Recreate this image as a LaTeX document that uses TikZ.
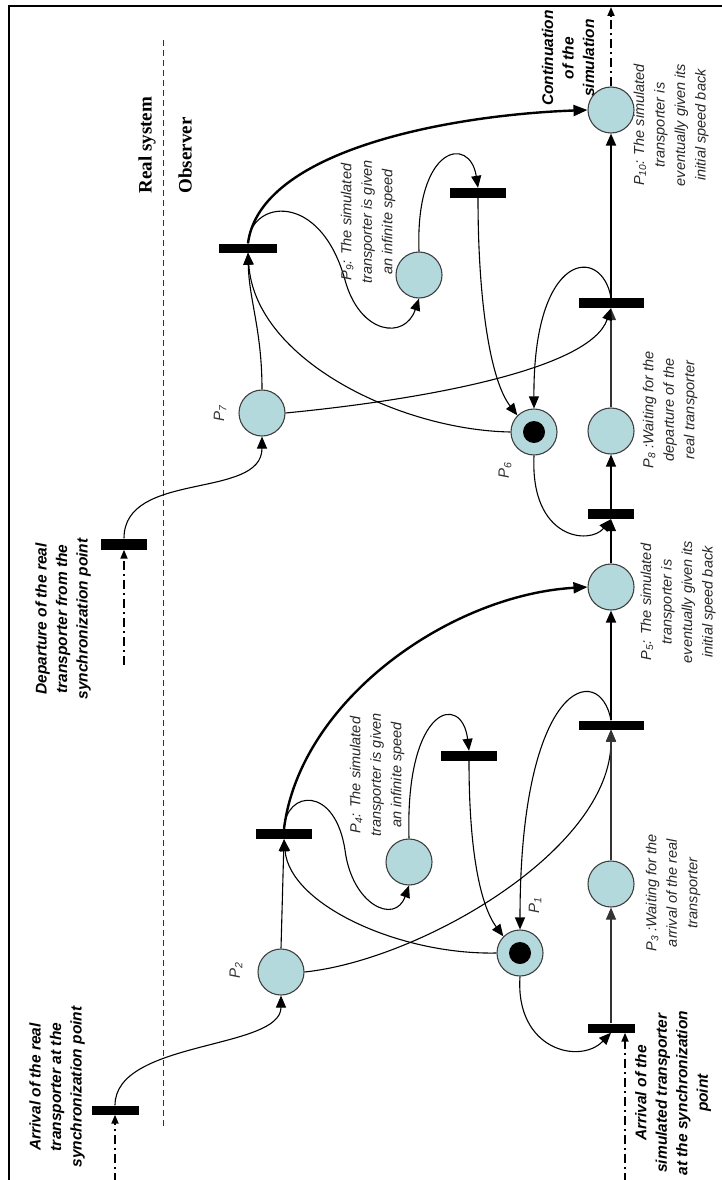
\documentclass[tikz,border=0pt]{standalone}
\usepackage{fontspec}
\setmainfont{Liberation Sans}
\newfontfamily\serifb{Liberation Serif}
\usetikzlibrary{arrows.meta,calc}
\definecolor{placefill}{HTML}{B4D9DC}
\begin{document}
\begin{tikzpicture}[x=1pt,y=-1pt,
  place/.style={circle,draw=black!75,fill=placefill,line width=1.1pt,minimum size=46pt,inner sep=0pt},
  token/.style={circle,fill=black,minimum size=22pt,inner sep=0pt},
  trans/.style={rectangle,fill=black,inner sep=0pt,minimum height=10pt},
  arc/.style={line width=1.1pt,-{Triangle[length=12pt,width=10pt]}},
  heavy/.style={line width=2.4pt,-{Triangle[length=14pt,width=11pt]}},
  dashdot/.style={line width=1.8pt,dash pattern=on 9pt off 4pt on 2pt off 4pt,-{Triangle[length=9pt,width=7pt]}},
  lbl/.style={rotate=90,align=center,font=\fontsize{14.5}{20.5}\selectfont\itshape,text=black!85},
  blbl/.style={rotate=90,align=center,font=\fontsize{15.5}{20.5}\selectfont\bfseries\itshape},
  plbl/.style={rotate=90,font=\fontsize{15}{18}\selectfont\itshape,text=black!80},
  sysl/.style={rotate=90,anchor=west,font=\fontsize{19}{22}\serifb\bfseries}
]
\useasboundingbox (0,0) rectangle (721,1180);
\draw[line width=2pt] (9,1190) -- (9,6) -- (730,6);
\draw[line width=1pt,dash pattern=on 6pt off 4pt,black!80] (163,40) -- (163,1127);
\node[sysl] (rs) at (147,197) {Real system};
\node[sysl] (ob) at (185,197) {Observer};

% places
\node[place] (P1) at (520,953) {};
\node[token] (P1t) at (P1) {};
\node[place] (P2) at (281,972) {};
\node[place] (P3) at (611,884) {};
\node[place] (P4) at (409,862) {};
\node[place] (P5) at (611,587) {};
\node[place] (P6) at (534,432) {};
\node[token] (P6t) at (P6) {};
\node[place] (P7) at (262,413) {};
\node[place] (P8) at (611,431) {};
\node[place] (P9) at (419,275) {};
\node[place] (P10) at (611,110) {};

% transitions
\node[trans,minimum width=47pt,minimum height=9pt] (Tar) at (115,1110) {};
\node[trans,minimum width=56pt] (T1) at (284,834) {};
\node[trans,minimum width=56pt] (T2) at (469,756) {};
\node[trans,minimum width=65pt,minimum height=9pt] (T3) at (611,725) {};
\node[trans,minimum width=47pt,minimum height=9pt] (T0) at (611,1028) {};
\node[trans,minimum width=46pt] (T4) at (611,514) {};
\node[trans,minimum width=65pt] (T5) at (611,303) {};
\node[trans,minimum width=46pt,minimum height=11pt] (T6) at (124,544) {};
\node[trans,minimum width=58pt,minimum height=9pt] (T7) at (248,248) {};
\node[trans,minimum width=56pt] (T8) at (478,193) {};

\coordinate (s1) at (115,1182);
\coordinate (s2) at (625,1182);
\coordinate (s3) at (124,665);
\coordinate (e4) at (611,7);

% lower half
\draw[dashdot] (s1) -- (Tar.south);
\draw[arc] (Tar.north) .. controls (115,1040) and (281,1050) .. (P2.south);
\draw[arc] (P2.north) -- (T1.south);
\draw[arc] (P1.west) .. controls (400,955) and (290,905) .. (T1.south);
\draw[arc] (T1.north) .. controls (286,790) and (335,785) .. (345,850) .. controls (352,905) and (395,925) .. (P4.south);
\draw[heavy] (T1.north) .. controls (300,700) and (450,595) .. (P5.west);
\draw[arc] (P4.north) .. controls (405,705) and (462,692) .. (T2.north);
\draw[arc] (T2.south) .. controls (469,850) and (480,905) .. (P1.135);
\draw[arc] (T3.north) .. controls (600,660) and (520,680) .. (P1.north);
\draw[arc] (P2.east) .. controls (420,960) and (611,850) .. (T3.south);
\draw[dashdot] (s2) -- (T0.south -| s2);
\draw[arc] (P1.south) .. controls (515,1050) and (580,1065) .. (T0.south);
\draw[arc,black!80] (T0.north) -- (P3.south);
\draw[arc,black!80] (P3.north) -- (T3.south);
\draw[arc,line width=1.8pt] (T3.north) -- (P5.south);
\draw[arc] (P5.north) -- (T4.south);
\draw[arc] (P6.south) .. controls (530,540) and (590,545) .. (T4.south);
\draw[arc] (T4.north) -- (P8.south);
\draw[arc,black!80] (P8.north) -- (T5.south);
\draw[arc,line width=1.8pt] (T5.north) -- (P10.south);
\draw[dashdot] (P10.north) -- (e4);

% upper half
\draw[dashdot] (s3) -- (T6.south);
\draw[arc] (T6.north) .. controls (124,470) and (262,500) .. (P7.south);
\draw[arc] (P7.north) .. controls (262,330) and (249,300) .. (T7.south);
\draw[arc] (P6.west) .. controls (400,430) and (255,360) .. (T7.south);
\draw[arc] (T7.north) .. controls (250,200) and (320,190) .. (345,280) .. controls (360,335) and (405,340) .. (P9.south);
\draw[heavy] (T7.north) .. controls (260,150) and (450,115) .. (P10.west);
\draw[arc] (P9.north) .. controls (415,145) and (470,135) .. (T8.north);
\draw[arc] (T8.south) .. controls (478,300) and (490,380) .. (P6.135);
\draw[arc] (T5.north) .. controls (602,245) and (533,250) .. (P6.north);
\draw[arc] (P7.east) .. controls (420,400) and (590,370) .. (T5.south);

% labels
\node[blbl] (Lar) at (57,1087) {Arrival of the real\\transporter at the\\synchronization point};
\node[blbl] (Ldep) at (63,619) {Departure of the real\\transporter from the\\synchronization point};
\node[blbl] (Lcont) at (568,58) {Continuation\\of the\\simulation};
\node[blbl] (Las) at (673,1093) {Arrival of the\\simulated transporter\\at the synchronization\\point};

\node[lbl] (L4) at (377,775) {P\textsubscript{4}: The simulated\\transporter is given\\an infinite speed};
\node[lbl] (L9) at (368,222) {P\textsubscript{9}: The simulated\\transporter is given\\an infinite speed};
\node[lbl] (L5) at (678,602) {P\textsubscript{5}: The simulated\\transporter is\\eventually given its\\initial speed back};
\node[lbl] (L10) at (671,125) {P\textsubscript{10}: The simulated\\transporter is\\eventually given its\\initial speed back};
\node[lbl] (L3) at (673,893) {P\textsubscript{3} :Waiting for the\\arrival of the real\\transporter};
\node[lbl] (L8) at (670,410) {P\textsubscript{8} :Waiting for the\\departure of the\\real transporter};

\node[plbl] (l2) at (236,970) {P\textsubscript{2}};
\node[plbl] (l7) at (220,413) {P\textsubscript{7}};
\node[plbl] (l6) at (505,470) {P\textsubscript{6}};
\node[plbl] (l1) at (535,905) {P\textsubscript{1}};
\end{tikzpicture}
\end{document}
